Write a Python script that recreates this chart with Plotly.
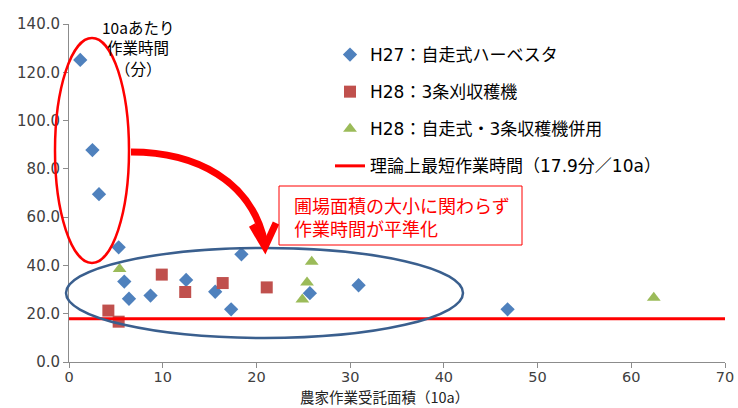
import plotly.graph_objects as go

# ---- data ----
h27_x = [1.2, 2.5, 3.2, 5.3, 5.9, 6.4, 8.7, 12.5, 15.6, 17.3, 18.4, 25.7, 30.9, 46.8]
h27_y = [125.1, 87.8, 69.5, 47.5, 33.3, 26.2, 27.5, 34.0, 29.1, 21.8, 44.6, 28.5, 31.8, 21.8]
h28a_x = [4.2, 5.3, 9.9, 12.4, 16.4, 21.1]
h28a_y = [21.3, 16.7, 36.2, 29.0, 32.7, 30.9]
h28b_x = [5.4, 25.9, 25.4, 24.9, 62.4]
h28b_y = [38.5, 41.5, 32.9, 25.9, 26.6]
min_x = [0, 70]
min_y = [17.9, 17.9]

names = ["H27：自走式ハーベスタ", "H28：3条刈収穫機", "H28：自走式・3条収穫機併用",
         "理論上最短作業時間（17.9分／10a）"]
ytitle_lines = ["10aあたり", "作業時間", "（分）"]
xtitle = "農家作業受託面積（10a）"
note_lines = "圃場面積の大小に関わらず<br>作業時間が平準化"

FONT = "DejaVu Sans, Noto Sans CJK JP"
JP = "Noto Sans CJK JP, DejaVu Sans"

# plot area in pixels
L, R, T, B = 69, 725, 24, 362
def px(x):
    return (x - L) / (R - L)
def py(y):
    return (B - y) / (B - T)

fig = go.Figure()
fig.add_trace(go.Scatter(x=h27_x, y=h27_y, mode="markers", name=names[0], legendgroup="a",
                         marker=dict(symbol="diamond", size=11, color="#4F81BD")))
fig.add_trace(go.Scatter(x=h28a_x, y=h28a_y, mode="markers", name=names[1], legendgroup="b",
                         marker=dict(symbol="square", size=12, color="#C0504D")))
fig.add_trace(go.Scatter(x=h28b_x, y=h28b_y, mode="markers", name=names[2], legendgroup="c",
                         marker=dict(symbol="triangle-up", size=12, color="#9BBB59")))
fig.add_trace(go.Scatter(x=min_x, y=min_y, mode="lines", name=names[3], legendgroup="d",
                         line=dict(color="#FF0000", width=3), cliponaxis=False))

shapes = [
    # red ellipse
    dict(type="circle", xref="paper", yref="paper", x0=px(55), x1=px(129), y0=py(263), y1=py(38),
         line=dict(color="#FF0000", width=2.5), layer="above"),
    # blue ellipse
    dict(type="circle", xref="paper", yref="paper", x0=px(66), x1=px(463), y0=py(338), y1=py(248),
         line=dict(color="#3A5F8E", width=2.5), layer="above"),
    # curved arrow
    dict(type="path", xref="paper", yref="paper",
         path=f"M {px(131)},{py(152)} C {px(195)},{py(152)} {px(252)},{py(180)} {px(265)},{py(244)}",
         line=dict(color="#FF0000", width=7)),
    dict(type="path", xref="paper", yref="paper",
         path=f"M {px(252)},{py(225)} L {px(265)},{py(247)} L {px(276)},{py(223)}",
         line=dict(color="#FF0000", width=7)),
    # text box
    dict(type="rect", xref="paper", yref="paper", x0=px(279), x1=px(522), y0=py(245), y1=py(186),
         line=dict(color="#FF0000", width=1), fillcolor="white", layer="above"),
]

annotations = []
for line, ypix in zip(ytitle_lines, [27, 47.5, 68]):
    annotations.append(dict(xref="paper", yref="paper", x=px(138), y=py(ypix), text=line,
                            showarrow=False, xanchor="center", yanchor="middle", borderpad=0,
                            font=dict(family=JP, size=15.5, color="#000000")))
annotations.append(dict(xref="paper", yref="paper", x=px(292), y=py(216), text=note_lines,
                        showarrow=False, xanchor="left", yanchor="middle", align="left",
                        font=dict(family=JP, size=18, color="#FF0000")))
annotations.append(dict(xref="paper", yref="paper", x=px(384), y=py(408), text=xtitle,
                        showarrow=False, xanchor="center", yanchor="bottom", borderpad=0,
                        font=dict(family=JP, size=14.5, color="#222222")))

fig.update_layout(
    width=738, height=408,
    margin=dict(l=L, r=738 - R, t=T, b=408 - B, autoexpand=False),
    paper_bgcolor="white", plot_bgcolor="white",
    font=dict(family=FONT, size=15, color="#404040"),
    showlegend=True,
    legend=dict(x=px(330), y=py(37), xanchor="left", yanchor="top",
                font=dict(family=FONT, size=17, color="#000000"),
                bgcolor="rgba(0,0,0,0)", tracegroupgap=12, traceorder="grouped"),
    shapes=shapes, annotations=annotations,
    xaxis=dict(range=[0, 70], dtick=10, showgrid=False, zeroline=False, showline=True,
               automargin=False, ticklabelstandoff=-3,
               linecolor="#8C8C8C", linewidth=1, ticks="outside", ticklen=5, tickcolor="#8C8C8C",
               tickfont=dict(size=14.5, color="#404040")),
    yaxis=dict(range=[0, 140], dtick=20, tickformat=".1f", showgrid=False, zeroline=False,
               automargin=False,
               showline=True, linecolor="#8C8C8C", linewidth=1, ticks="outside", ticklen=5,
               tickcolor="#8C8C8C", tickfont=dict(size=15, color="#404040")),
)

fig.write_html("out.html")
